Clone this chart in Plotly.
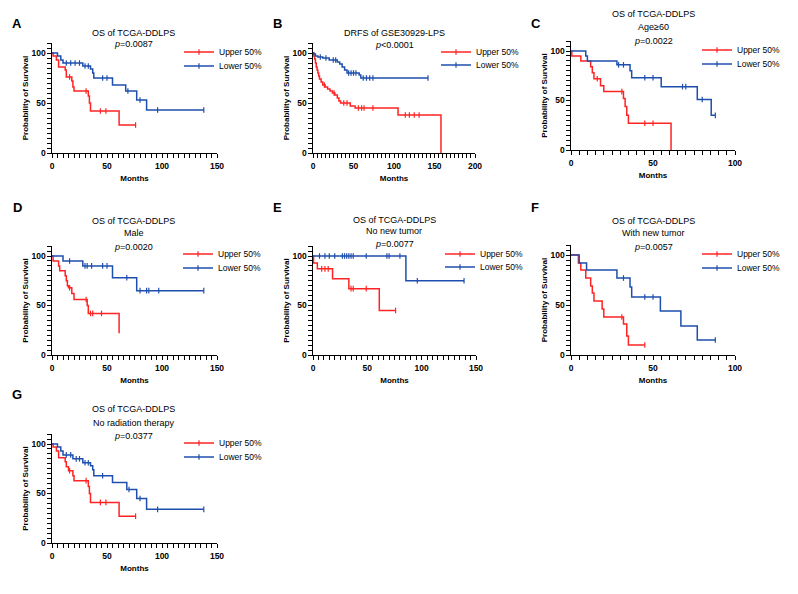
import plotly.graph_objects as go

# page body has an 8px margin, so the figure is drawn 8px smaller and coords are shifted
OFF = 8
W, H = 798 - OFF, 594 - OFF
RED = "#FF2424"
BLUE = "#1F4FAE"
FONT = "Liberation Sans, Arial, sans-serif"

# ---- data: event times (months), survival (%) after each event, censor times ----
a_up_t = [1, 4, 6, 12, 13, 18, 19, 20, 33, 34, 35, 61]
a_up_s = [97, 93, 86, 83, 76, 72, 66, 62, 57, 50, 42, 28]
a_up_c = [16, 31, 44, 49, 76]
a_lo_t = [5, 8, 10, 28, 35, 37, 38, 55, 67, 77, 86]
a_lo_s = [97, 93, 90, 87, 84, 80, 75, 68, 62, 53, 43]
a_lo_c = [13, 17, 21, 25, 30, 33, 46, 50, 69, 80, 96, 138]

b_up_t = [1, 2, 3, 4, 5, 6, 7, 8, 10, 12, 15, 18, 21, 24, 27, 30, 32, 34, 46, 52, 105, 158]
b_up_s = [97, 94, 90, 86, 83, 80, 77, 74, 71, 68, 66, 64, 62, 60, 58, 55, 52, 50, 47, 45, 38, 0]
b_up_c = [14, 26, 38, 42, 56, 60, 63, 74, 114, 119, 125, 131]
b_lo_t = [1, 3, 6, 12, 20, 30, 33, 36, 39, 42, 57, 59]
b_lo_s = [99, 97, 96, 95, 93, 91, 89, 86, 83, 80, 78, 75]
b_lo_c = [9, 16, 25, 28, 44, 47, 50, 53, 62, 66, 70, 74, 142]

c_up_t = [0.5, 6, 12, 13, 14, 18, 20, 32, 33, 34, 35, 61]
c_up_s = [95, 90, 84, 78, 72, 65, 59, 52, 44, 35, 27, 0]
c_up_c = [16, 31, 45, 50]
c_lo_t = [9, 10, 28, 36, 37, 55, 77, 85.5]
c_lo_s = [95, 90, 86, 80, 73, 64, 51, 35]
c_lo_c = [29, 32, 45, 50, 68, 70, 80, 88]

d_up_t = [1, 6, 7, 12, 13, 14, 15, 18, 20, 32, 33, 61]
d_up_s = [95, 90, 85, 80, 75, 70, 68, 62, 56, 50, 42, 22]
d_up_c = [16, 31, 35, 37, 45]
d_lo_t = [10, 28, 55, 77]
d_lo_s = [95, 90, 78, 65]
d_lo_c = [16, 30, 32, 36, 46, 50, 68, 80, 86, 88, 97, 138]

e_up_t = [0.5, 4, 18, 33, 61]
e_up_s = [93, 87, 77, 67, 45]
e_up_c = [8, 11, 14, 35, 37, 49, 76]
e_lo_t = [85.5]
e_lo_s = [75]
e_lo_c = [6, 11, 15, 20, 27, 29, 31, 33, 35, 37, 49, 68, 70, 80, 96, 139]

f_up_t = [4.5, 6, 9, 12, 13, 14, 19, 20, 32, 34, 35]
f_up_s = [92, 85, 77, 69, 62, 54, 46, 38, 31, 19, 10]
f_up_c = [31, 45]
f_lo_t = [5, 9.5, 28, 36, 37, 54.5, 67, 77]
f_lo_s = [92, 85, 77, 68, 58, 44, 29, 15]
f_lo_c = [32, 45, 50, 88]

g_up_t = [1, 4, 6, 12, 13, 15, 19, 20, 33, 34, 35, 61]
g_up_s = [97, 93, 86, 82, 77, 73, 68, 63, 57, 50, 41, 27]
g_up_c = [16, 31, 44, 49, 76]
g_lo_t = [5, 8, 10, 19, 28, 35, 37, 38, 55, 68, 77, 86]
g_lo_s = [97, 93, 89, 85, 81, 78, 74, 68, 61, 54, 45, 34]
g_lo_c = [13, 17, 22, 25, 30, 33, 46, 70, 80, 96, 138]

letters = ["A", "B", "C", "D", "E", "F", "G"]
titles = [
    ["OS of TCGA-DDLPS"],
    ["DRFS of GSE30929-LPS"],
    ["OS of TCGA-DDLPS", "Age≥60"],
    ["OS of TCGA-DDLPS", "Male"],
    ["OS of TCGA-DDLPS", "No new tumor"],
    ["OS of TCGA-DDLPS", "With new tumor"],
    ["OS of TCGA-DDLPS", "No radiation therapy"],
]
pvals = ["=0.0087", "<0.0001", "=0.0022", "=0.0020", "=0.0077", "=0.0057", "=0.0377"]
xmaxes = [150, 200, 100, 150, 150, 100, 150]
ymax = 110
groups = ["Upper 50%", "Lower 50%"]

curves = [
    (a_up_t, a_up_s, a_up_c, a_lo_t, a_lo_s, a_lo_c),
    (b_up_t, b_up_s, b_up_c, b_lo_t, b_lo_s, b_lo_c),
    (c_up_t, c_up_s, c_up_c, c_lo_t, c_lo_s, c_lo_c),
    (d_up_t, d_up_s, d_up_c, d_lo_t, d_lo_s, d_lo_c),
    (e_up_t, e_up_s, e_up_c, e_lo_t, e_lo_s, e_lo_c),
    (f_up_t, f_up_s, f_up_c, f_lo_t, f_lo_s, f_lo_c),
    (g_up_t, g_up_s, g_up_c, g_lo_t, g_lo_s, g_lo_c),
]

# ---- layout in window pixels: plot box (left, right, y of 100%, y of 0%) ----
boxes = [(52, 217, 53, 153), (313, 475, 53, 153), (571, 735, 51, 150),
         (52, 217, 256, 355), (313, 476, 256, 355), (571, 735, 255, 355),
         (52, 217, 444, 543)]
letter_pos = [(17, 24), (277, 23), (536, 23), (17, 207), (277, 207), (535, 207), (17, 394)]
title_pos = [(134, [33], 44), (394, [33], 45), (653, [14, 27], 41),
             (134, [221, 233], 247), (394, [220, 231], 244), (653, [221, 233], 247),
             (134, [409, 423], 436)]
legend_pos = [(218, 52, 66), (475, 52, 65), (736, 50, 64), (217, 254, 268),
              (479, 254, 267), (736, 254, 268), (218, 443, 457)]


def px(x):
    return (x - OFF) / W


def py(y):
    return 1 - (y - OFF) / H


def step_xy(t, s, cens):
    x = [0] + list(t)
    y = [100] + list(s)
    if cens and max(cens) > t[-1]:
        x.append(max(cens))
        y.append(s[-1])
    return x, y


def surv_at(t, s, c):
    v = 100
    for ti, si in zip(t, s):
        if ti <= c:
            v = si
    return v


def censor_xy(t, s, cens):
    x, y = [], []
    for c in cens:
        x += [c, None]
        y += [surv_at(t, s, c), None]
    return x, y


def ticks(top):
    # small tick every 5, label every 50
    vals = list(range(0, top + 1, 5))
    return vals, [str(v) if v % 50 == 0 else "" for v in vals]


fig = go.Figure()
layout = dict(width=W, height=H, margin=dict(l=0, r=0, t=0, b=0),
              paper_bgcolor="white", plot_bgcolor="white",
              font=dict(family=FONT, color="black"), annotations=[])

axfont = dict(family=FONT, size=8.5, color="black", weight="bold")
common = dict(ticks="outside", ticklen=3.5, tickwidth=1.1, tickcolor="black",
              showline=True, linewidth=1.2, linecolor="black", showgrid=False,
              zeroline=False, tickfont=axfont, automargin=False)

for i in range(7):
    n = "" if i == 0 else str(i + 1)
    xa, ya = "x" + n, "y" + n
    left, right, y100, y0 = boxes[i]
    ytop = y0 - ymax / 100 * (y0 - y100)
    xv, xt = ticks(xmaxes[i])
    yv, yt = ticks(ymax)
    layout["xaxis" + n] = dict(
        domain=[px(left), px(right)], anchor=ya, range=[0, xmaxes[i]],
        tickmode="array", tickvals=xv, ticktext=xt, ticklabelstandoff=1,
        title=dict(text="Months", font=dict(family=FONT, size=8, weight="bold"), standoff=5),
        **common)
    layout["yaxis" + n] = dict(
        domain=[py(y0), py(ytop)], anchor=xa, range=[0, ymax],
        tickmode="array", tickvals=yv, ticktext=yt,
        title=dict(text="Probability of Survival", font=dict(family=FONT, size=8, weight="bold"), standoff=1),
        **common)

    up_t, up_s, up_c, lo_t, lo_s, lo_c = curves[i]
    tx, yu, yl = legend_pos[i]
    for k, (t, s, c, col, ly) in enumerate([(up_t, up_s, up_c, RED, yu), (lo_t, lo_s, lo_c, BLUE, yl)]):
        lname = "legend" + ("" if 2 * i + k == 0 else str(2 * i + k + 1))
        sx, sy = step_xy(t, s, c)
        fig.add_trace(go.Scatter(x=sx, y=sy, xaxis=xa, yaxis=ya, mode="lines",
                                 line=dict(color=col, width=1.5, shape="hv"),
                                 showlegend=False, hoverinfo="skip"))
        cx, cy = censor_xy(t, s, c)
        fig.add_trace(go.Scatter(x=cx, y=cy, xaxis=xa, yaxis=ya, mode="lines+markers",
                                 line=dict(color=col, width=1.5),
                                 marker=dict(symbol="line-ns", size=4, line=dict(width=1.2, color=col)),
                                 name=groups[k], legend=lname, showlegend=True, hoverinfo="skip"))
        layout[lname] = dict(x=px(tx - 39), y=py(ly), xanchor="left", yanchor="middle",
                             bgcolor="rgba(0,0,0,0)", borderwidth=0, itemwidth=30,
                             font=dict(family=FONT, size=8.5, color="black"))

    lx, lyy = letter_pos[i]
    layout["annotations"].append(dict(text="<b>" + letters[i] + "</b>", x=px(lx), y=py(lyy),
                                      xref="paper", yref="paper", showarrow=False,
                                      xanchor="center", yanchor="middle",
                                      font=dict(family=FONT, size=13)))
    cxp, lines, pyv = title_pos[i]
    for line, ty in zip(titles[i], lines):
        layout["annotations"].append(dict(text=line, x=px(cxp), y=py(ty), xref="paper", yref="paper",
                                          showarrow=False, xanchor="center", yanchor="middle",
                                          font=dict(family=FONT, size=9)))
    layout["annotations"].append(dict(text="<i>p</i>" + pvals[i], x=px(cxp), y=py(pyv),
                                      xref="paper", yref="paper", showarrow=False,
                                      xanchor="center", yanchor="middle",
                                      font=dict(family=FONT, size=9)))

fig.update_layout(**layout)
fig.write_html("out.html")
